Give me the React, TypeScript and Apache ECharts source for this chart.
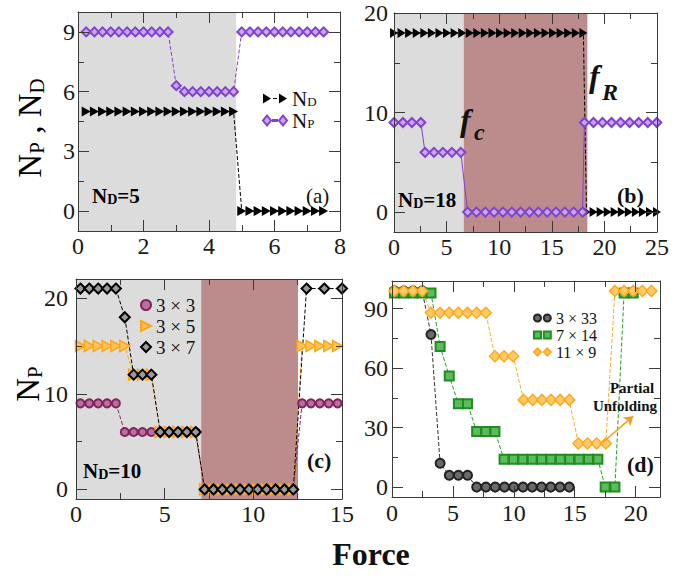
import React, { useEffect, useRef } from "react";
import * as echarts from "echarts";

const FONT = "Liberation Serif";

// ---------- Panel (a) ----------
const aXRange = [0, 8];
const aYRange = [-1, 10];
const aXMajor = [0, 2, 4, 6, 8];
const aXMinor = [1, 3, 5, 7];
const aYMajor = [0, 3, 6, 9];
const aYMinor = [1.5, 4.5, 7.5];
const aGray = [0, 4.83];
const aND: number[][] = [
  [0.25, 5], [0.5, 5], [0.75, 5], [1, 5], [1.25, 5], [1.5, 5], [1.75, 5], [2, 5], [2.25, 5], [2.5, 5],
  [2.75, 5], [3, 5], [3.25, 5], [3.5, 5], [3.75, 5], [4, 5], [4.25, 5], [4.5, 5], [4.75, 5],
  [5, 0], [5.25, 0], [5.5, 0], [5.75, 0], [6, 0], [6.25, 0], [6.5, 0], [6.75, 0], [7, 0], [7.25, 0], [7.5, 0],
];
const aNP: number[][] = [
  [0.25, 9], [0.5, 9], [0.75, 9], [1, 9], [1.25, 9], [1.5, 9], [1.75, 9], [2, 9], [2.25, 9], [2.5, 9], [2.75, 9],
  [3, 6.3], [3.25, 6], [3.5, 6], [3.75, 6], [4, 6], [4.25, 6], [4.5, 6], [4.75, 6],
  [5, 9], [5.25, 9], [5.5, 9], [5.75, 9], [6, 9], [6.25, 9], [6.5, 9], [6.75, 9], [7, 9], [7.25, 9], [7.5, 9],
];

// ---------- Panel (b) ----------
const bXRange = [0, 25];
const bYRange = [-2, 20];
const bXMajor = [0, 5, 10, 15, 20, 25];
const bXMinor = [2.5, 7.5, 12.5, 17.5, 22.5];
const bYMajor = [0, 10, 20];
const bYMinor = [5, 15];
const bGray = [0, 6.63];
const bBrown = [6.63, 18.38];
const bND: number[][] = [
  [0, 18], [0.72, 18], [1.44, 18], [2.16, 18], [2.88, 18], [3.6, 18], [4.32, 18], [5.04, 18], [5.76, 18],
  [6.48, 18], [7.2, 18], [7.92, 18], [8.64, 18], [9.36, 18], [10.08, 18], [10.8, 18], [11.52, 18], [12.24, 18],
  [12.96, 18], [13.68, 18], [14.4, 18], [15.12, 18], [15.84, 18], [16.56, 18], [17.28, 18], [18, 18],
  [18.3, 0], [18.97, 0], [19.64, 0], [20.31, 0], [20.98, 0], [21.65, 0], [22.32, 0], [22.99, 0], [23.66, 0],
  [24.33, 0], [25, 0],
];
const bNP: number[][] = [
  [0, 9], [0.85, 9], [1.7, 9], [2.55, 9],
  [2.95, 6], [3.8, 6], [4.65, 6], [5.5, 6], [6.35, 6],
  [7, 0], [7.84, 0], [8.68, 0], [9.52, 0], [10.36, 0], [11.2, 0], [12.04, 0], [12.88, 0], [13.72, 0],
  [14.56, 0], [15.4, 0], [16.24, 0], [17.08, 0], [17.92, 0],
  [18.1, 9], [18.96, 9], [19.82, 9], [20.68, 9], [21.54, 9], [22.4, 9], [23.26, 9], [24.12, 9], [24.98, 9],
];

// ---------- Panel (c) ----------
const cXRange = [0, 15];
const cYRange = [-1, 22];
const cXMajor = [0, 5, 10, 15];
const cXMinor = [2.5, 7.5, 12.5];
const cYMajor = [0, 10, 20];
const cYMinor = [5, 15];
const cGray = [0, 7.06];
const cBrown = [7.06, 12.52];
const c3x3: number[][] = [
  [0.25, 9], [0.75, 9], [1.25, 9], [1.75, 9], [2.25, 9],
  [2.75, 6], [3.25, 6], [3.75, 6], [4.25, 6], [4.75, 6], [5.25, 6], [5.75, 6], [6.25, 6], [6.75, 6],
  [7.25, 0], [7.75, 0], [8.25, 0], [8.75, 0], [9.25, 0], [9.75, 0], [10.25, 0], [10.75, 0], [11.25, 0], [11.75, 0], [12.25, 0],
  [12.75, 9], [13.25, 9], [13.75, 9], [14.25, 9], [14.75, 9],
];
const c3x5: number[][] = [
  [0.25, 15], [0.75, 15], [1.25, 15], [1.75, 15], [2.25, 15], [2.75, 15],
  [3.25, 12], [3.75, 12], [4.25, 12],
  [4.75, 6], [5.25, 6], [5.75, 6], [6.25, 6], [6.75, 6],
  [7.25, 0], [7.75, 0], [8.25, 0], [8.75, 0], [9.25, 0], [9.75, 0], [10.25, 0], [10.75, 0], [11.25, 0], [11.75, 0], [12.25, 0],
  [12.75, 15], [13.25, 15], [13.75, 15], [14.25, 15], [14.75, 15],
];
const c3x7: number[][] = [
  [0.25, 21], [0.75, 21], [1.25, 21], [1.75, 21], [2.25, 21],
  [2.75, 18], [3.25, 12], [3.75, 12], [4.25, 12],
  [4.75, 6], [5.25, 6], [5.75, 6], [6.25, 6], [6.75, 6],
  [7.25, 0], [7.75, 0], [8.25, 0], [8.75, 0], [9.25, 0], [9.75, 0], [10.25, 0], [10.75, 0], [11.25, 0], [11.75, 0], [12.25, 0],
  [13, 21], [14, 21], [15, 21],
];

// ---------- Panel (d) ----------
const dXRange = [0, 22];
const dYRange = [-5, 104];
const dXMajor = [0, 5, 10, 15, 20];
const dXMinor = [2.5, 7.5, 12.5, 17.5];
const dYMajor = [0, 30, 60, 90];
const dYMinor = [15, 45, 75];
const d3x33: number[][] = [
  [0.2, 99], [0.96, 99], [1.72, 99], [2.48, 99], [3.2, 77], [3.95, 12], [4.7, 6], [5.45, 6], [6.2, 6],
  [6.95, 0], [7.71, 0], [8.47, 0], [9.23, 0], [9.99, 0], [10.75, 0], [11.51, 0], [12.27, 0], [13.03, 0], [13.79, 0], [14.55, 0],
];
const d7x14: number[][] = [
  [0.2, 98], [0.96, 98], [1.72, 98], [2.48, 98], [3.2, 98], [3.95, 71], [4.7, 56], [5.45, 42], [6.2, 42],
  [6.95, 28], [7.7, 28], [8.45, 28],
  [9.2, 14], [9.97, 14], [10.74, 14], [11.51, 14], [12.28, 14], [13.05, 14], [13.82, 14], [14.59, 14], [15.36, 14], [16.13, 14], [16.9, 14],
  [17.5, 0], [18.3, 0], [19.05, 98], [19.8, 98],
];
const d11x9: number[][] = [
  [0.2, 99], [0.96, 99], [1.72, 99], [2.48, 99],
  [3.2, 88], [3.95, 88], [4.7, 88], [5.45, 88], [6.2, 88], [6.95, 88], [7.7, 88],
  [8.45, 66], [9.2, 66], [9.95, 66],
  [10.8, 44], [11.55, 44], [12.3, 44], [13.05, 44], [13.8, 44], [14.55, 44],
  [15.3, 22], [16.05, 22], [16.8, 22], [17.55, 22],
  [18.3, 99], [19.05, 99], [19.8, 99], [20.55, 99], [21.3, 99],
];
const dArrow = [[17.3, 22.5], [19.8, 35.8]];

// ---------- styling ----------
const GRAY = "#DCDCDC";
const BROWN = "#BB8C8B";
const AXIS = "#3a3a3a";

const grids = [
  { left: 78, top: 12, width: 262, height: 219 },
  { left: 394, top: 13, width: 263, height: 219 },
  { left: 76, top: 279, width: 266, height: 220 },
  { left: 392, top: 281, width: 268, height: 216 },
];

function makeAxes(dim: "x" | "y", g: number, range: number[], majors: number[], minors: number[], margin: number, fontSize: number) {
  const pos = dim === "x" ? ["bottom", "top"] : ["left", "right"];
  const line = { show: true, onZero: false, lineStyle: { color: AXIS, width: 1 } };
  const noLine = { show: false, onZero: false };
  const common = { type: "value", gridIndex: g, min: range[0], max: range[1], splitLine: { show: false }, z: 5 };
  const major = { show: true, inside: true, length: 11, customValues: majors, lineStyle: { color: AXIS, width: 1 } };
  const minor = { show: true, inside: true, length: 6, customValues: minors, lineStyle: { color: AXIS, width: 1 } };
  return [
    {
      ...common, position: pos[0], axisLine: line, axisTick: major,
      axisLabel: { show: true, customValues: majors, margin, fontFamily: FONT, fontSize, color: "#1a1a1a" },
    },
    { ...common, position: pos[0], axisLine: noLine, axisTick: minor, axisLabel: { show: false } },
    { ...common, position: pos[1], axisLine: line, axisTick: major, axisLabel: { show: false } },
    { ...common, position: pos[1], axisLine: noLine, axisTick: minor, axisLabel: { show: false } },
  ];
}

const TRI_RIGHT = "path://M0,0L10,5L0,10Z";

function ser(name: string, g: number, data: number[][], o: any) {
  return {
    type: "line",
    name,
    xAxisIndex: g * 4,
    yAxisIndex: g * 4,
    data,
    symbol: o.symbol,
    symbolSize: o.size,
    itemStyle: { color: o.fill, borderColor: o.border || o.fill, borderWidth: o.bw ?? 0 },
    lineStyle: { color: o.line, width: 1, type: o.lineType || "dashed" },
    z: o.z ?? 2,
    silent: true,
    ...(o.extra || {}),
  };
}

function shade(ranges: { r: number[]; c: string }[]) {
  return {
    silent: true,
    label: { show: false },
    data: ranges.map((x) => [{ xAxis: x.r[0], itemStyle: { color: x.c, opacity: 1 } }, { xAxis: x.r[1] }]),
  };
}

const richLeg = {
  n: { fontFamily: FONT, fontSize: 21, lineHeight: 18, color: "#111" },
  s: { fontFamily: FONT, fontSize: 13, lineHeight: 4, verticalAlign: "bottom", color: "#111" },
};

function richBold(fs: number, ss: number, lh: number, sl: number) {
  return {
    n: { fontFamily: FONT, fontSize: fs, fontWeight: "bold", lineHeight: lh, color: "#111" },
    s: { fontFamily: FONT, fontSize: ss, fontWeight: "bold", lineHeight: sl, verticalAlign: "bottom", color: "#111" },
  };
}

const richTitle = {
  n: { fontFamily: FONT, fontSize: 33, lineHeight: 34, color: "#111" },
  s: { fontFamily: FONT, fontSize: 21, lineHeight: 6, verticalAlign: "bottom", color: "#111" },
};

export default function App() {
  const ref = useRef<HTMLDivElement>(null);
  useEffect(() => {
    document.body.style.margin = "0";
    const chart = echarts.init(ref.current!, null, { renderer: "svg" });
    const xAxis = [
      ...makeAxes("x", 0, aXRange, aXMajor, aXMinor, 3, 24),
      ...makeAxes("x", 1, bXRange, bXMajor, bXMinor, 3, 24),
      ...makeAxes("x", 2, cXRange, cXMajor, cXMinor, 3, 24),
      ...makeAxes("x", 3, dXRange, dXMajor, dXMinor, 4, 24),
    ];
    const yAxis = [
      ...makeAxes("y", 0, aYRange, aYMajor, aYMinor, 3, 24),
      ...makeAxes("y", 1, bYRange, bYMajor, bYMinor, 6, 24),
      ...makeAxes("y", 2, cYRange, cYMajor, cYMinor, 8, 24),
      ...makeAxes("y", 3, dYRange, dYMajor, dYMinor, 4, 24),
    ];
    const PURPLE = "#8040D0";
    const PURPLE_L = "#C8A6EE";
    const series = [
      // (a)
      ser("a:ND", 0, aND, {
        symbol: TRI_RIGHT, size: [9, 10], fill: "#000", line: "#000",
        extra: { markArea: shade([{ r: aGray, c: GRAY }]) },
      }),
      ser("a:NP", 0, aNP, { symbol: "diamond", size: 9, fill: PURPLE_L, border: PURPLE, bw: 2, line: PURPLE }),
      // (b)
      ser("b:ND", 1, bND, {
        symbol: TRI_RIGHT, size: [8, 10], fill: "#000", line: "#000",
        extra: { markArea: shade([{ r: bGray, c: GRAY }, { r: bBrown, c: BROWN }]) },
      }),
      ser("b:NP", 1, bNP, { symbol: "diamond", size: 9, fill: PURPLE_L, border: PURPLE, bw: 2, line: PURPLE, lineType: "solid" }),
      // (c)
      ser("3 × 3", 2, c3x3, {
        symbol: "circle", size: 8, fill: "#B8709C", border: "#822460", bw: 2, line: "#822460",
        extra: { markArea: shade([{ r: cGray, c: GRAY }, { r: cBrown, c: BROWN }]) },
      }),
      ser("3 × 5", 2, c3x5, { symbol: TRI_RIGHT, size: [10, 11], fill: "#FFC55A", border: "#FFA515", bw: 1.5, line: "#FFA515" }),
      ser("3 × 7", 2, c3x7, { symbol: "diamond", size: 10, fill: "#9a9a9a", border: "#000", bw: 2, line: "#000" }),
      // (d)
      ser("3 × 33", 3, d3x33, { symbol: "circle", size: 9, fill: "#6a6a6a", border: "#222", bw: 2, line: "#333" }),
      ser("7 × 14", 3, d7x14, { symbol: "rect", size: 9, fill: "#5DBB5D", border: "#1E8E1E", bw: 2, line: "#2A9A2A" }),
      ser("11 × 9", 3, d11x9, {
        symbol: "diamond", size: 11, fill: "#FFCB66", border: "#FFA820", bw: 1.5, line: "#FFA820",
        extra: {
          markLine: {
            silent: true,
            symbol: ["none", "arrow"],
            symbolSize: 9,
            label: { show: false },
            lineStyle: { color: "#F0A020", width: 1.6, type: "solid" },
            data: [[{ coord: dArrow[0] }, { coord: dArrow[1] }]],
          },
        },
      }),
    ];

    const legends = [
      {
        data: [
          { name: "a:ND", icon: "path://M0,0L8,5L0,10Z M10,4.4h4v1.2h-4z M16,0L24,5L16,10Z" },
          { name: "a:NP", icon: "path://M4,0L8,5L4,10L0,5Z M10,4.4h4v1.2h-4z M20,0L24,5L20,10L16,5Z" },
        ],
        left: 262, top: 88, padding: 0, orient: "vertical", itemWidth: 24, itemHeight: 10, itemGap: 1,
        selectedMode: false,
        formatter: (n: string) => (n === "a:ND" ? "{n|N}{s|D}" : "{n|N}{s|P}"),
        textStyle: { rich: richLeg },
      },
      {
        data: [
          { name: "3 × 3", icon: "circle" },
          { name: "3 × 5", icon: TRI_RIGHT },
          { name: "3 × 7", icon: "diamond" },
        ],
        left: 140, top: 295, padding: 0, orient: "vertical", itemWidth: 10, itemHeight: 10, itemGap: 1,
        selectedMode: false,
        textStyle: { fontFamily: FONT, fontSize: 19, lineHeight: 20, color: "#111" },
      },
      {
        data: [
          { name: "3 × 33", icon: "path://M0,5a5,5 0 1,0 10,0a5,5 0 1,0 -10,0Z M14,5a5,5 0 1,0 10,0a5,5 0 1,0 -10,0Z" },
          { name: "7 × 14", icon: "path://M0,0h10v10h-10z M14,0h10v10h-10z" },
          { name: "11 × 9", icon: "path://M5,0L10,5L5,10L0,5Z M19,0L24,5L19,10L14,5Z" },
        ],
        left: 533, top: 310, padding: 0, orient: "vertical", itemWidth: 17, itemHeight: 7, itemGap: 1,
        selectedMode: false,
        textStyle: { fontFamily: FONT, fontSize: 16, lineHeight: 16, color: "#111" },
      },
    ];

    const txt = (x: number, y: number, text: string, font: string, align = "left") => ({
      type: "text", x, y, z: 10, silent: true,
      style: { text, font, fill: "#111", align, verticalAlign: "middle" },
    });

    const graphic = [
      {
        type: "text", x: 30, y: 128, rotation: Math.PI / 2, z: 10, silent: true,
        style: { text: "{n|N}{s|P}{n| , N}{s|D}", rich: richTitle, align: "center", verticalAlign: "middle" },
      },
      {
        type: "text", x: 28, y: 384, rotation: Math.PI / 2, z: 10, silent: true,
        style: { text: "{n|N}{s|P}", rich: richTitle, align: "center", verticalAlign: "middle" },
      },
      {
        type: "text", x: 92, y: 196, z: 10, silent: true,
        style: { text: "{n|N}{s|D}{n|=5}", rich: richBold(21, 14, 20, 4), align: "left", verticalAlign: "middle" },
      },
      txt(306, 196, "(a)", `21px ${FONT}`),
      {
        type: "text", x: 398, y: 200, z: 10, silent: true,
        style: { text: "{n|N}{s|D}{n|=18}", rich: richBold(21, 14, 20, 4), align: "left", verticalAlign: "middle" },
      },
      txt(617, 195, "(b)", `bold 22px ${FONT}`),
      txt(460, 120, "f", `italic bold 32px ${FONT}`),
      txt(474, 132, "c", `italic bold 24px ${FONT}`),
      txt(589, 76, "f", `italic bold 32px ${FONT}`),
      txt(602, 92, "R", `italic bold 24px ${FONT}`),
      {
        type: "text", x: 83, y: 471, z: 10, silent: true,
        style: { text: "{n|N}{s|D}{n|=10}", rich: richBold(21, 14, 20, 4), align: "left", verticalAlign: "middle" },
      },
      txt(307, 460, "(c)", `bold 22px ${FONT}`),
      txt(627, 464, "(d)", `bold 22px ${FONT}`),
      txt(632, 388, "Partial", `bold 15px ${FONT}`, "center"),
      txt(625, 406, "Unfolding", `bold 15px ${FONT}`, "center"),
      txt(371, 554, "Force", `bold 32px ${FONT}`, "center"),
    ];

    chart.setOption({
      animation: false,
      backgroundColor: "#fff",
      grid: grids.map((g) => ({ ...g, show: false })),
      xAxis,
      yAxis,
      series,
      legend: legends,
      graphic,
    } as any);
    return () => chart.dispose();
  }, []);
  return <div ref={ref} style={{ width: 695, height: 578 }} />;
}
